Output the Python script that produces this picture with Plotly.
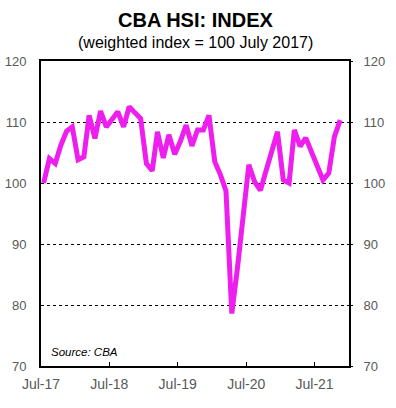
import pandas as pd
import plotly.graph_objects as go

# Monthly index values, Jul-2017 .. Nov-2021
hsi_values = [
    100.0, 104.0, 103.2, 106.2, 108.5, 109.2, 103.8, 104.3, 111.1, 107.3,
    111.8, 109.2, 110.4, 111.7, 109.2, 112.5, 111.5, 110.6, 103.2, 102.0,
    108.4, 104.1, 107.9, 104.7, 106.8, 109.5, 106.1, 108.7, 108.7, 111.1,
    103.5, 101.3, 98.7, 78.6, 86.0, 94.5, 103.0, 100.2, 98.8, 102.0,
    105.2, 108.4, 100.5, 100.0, 108.7, 106.0, 107.4, 105.0, 102.7, 100.5,
    101.6, 107.6, 110.3,
]
months = pd.date_range("2017-07-01", periods=len(hsi_values), freq="MS") + pd.DateOffset(days=14)

tick_dates = ["2017-07-01", "2018-07-01", "2019-07-01", "2020-07-01", "2021-07-01"]
tick_labels = ["Jul-17", "Jul-18", "Jul-19", "Jul-20", "Jul-21"]
y_ticks = [70, 80, 90, 100, 110, 120]

FONT = "Liberation Sans, Arial, sans-serif"
GREY = "#595959"

fig = go.Figure()
fig.add_trace(go.Scatter(
    x=months, y=hsi_values, mode="lines",
    line=dict(color="#EE1EEE", width=5),
    hoverinfo="skip", showlegend=False,
))
# invisible trace on secondary axis to show right-hand labels
fig.add_trace(go.Scatter(
    x=[months[0]], y=[hsi_values[0]], yaxis="y2", mode="markers",
    marker=dict(opacity=0), hoverinfo="skip", showlegend=False,
))

fig.update_layout(
    width=396, height=408,
    margin=dict(l=41, r=47, t=61, b=42, autoexpand=False),
    paper_bgcolor="white", plot_bgcolor="white",
    font=dict(family=FONT, color=GREY, size=13),
    xaxis=dict(
        type="date", automargin=False,
        range=["2017-07-01", "2022-01-01"],
        tickmode="array", tickvals=tick_dates, ticktext=tick_labels,
        ticks="inside", ticklen=4, tickwidth=1, tickcolor="black",
        showgrid=False, zeroline=False,
        showline=True, linecolor="black", linewidth=2, mirror=True,
        tickfont=dict(size=14, color=GREY),
        ticklabelstandoff=4,
    ),
    yaxis=dict(
        range=[70, 120], tickmode="array", tickvals=y_ticks, automargin=False,
        showgrid=True, gridcolor="black", griddash="dot", gridwidth=1,
        zeroline=False, ticks="",
        showline=True, linecolor="black", linewidth=2, mirror=True,
        tickfont=dict(size=13, color=GREY),
        ticklabelstandoff=10,
    ),
    yaxis2=dict(
        range=[70, 120], tickmode="array", tickvals=y_ticks, automargin=False,
        overlaying="y", side="right", showgrid=False, zeroline=False,
        ticks="outside", ticklen=3, tickcolor="black",
        tickfont=dict(size=13, color=GREY),
        ticklabelstandoff=8,
    ),
    annotations=[
        dict(
            text="<b>CBA HSI: INDEX</b>", xref="paper", yref="paper",
            x=0.5, y=1.0, yshift=41, xanchor="center", yanchor="middle", showarrow=False,
            font=dict(family=FONT, size=20, color="black"),
        ),
        dict(
            text="(weighted index = 100 July 2017)", xref="paper", yref="paper",
            x=0.5, y=1.0, yshift=19, xanchor="center", yanchor="middle", showarrow=False,
            font=dict(family=FONT, size=16, color="black"),
        ),
        dict(
            text="<i>Source: CBA</i>", xref="paper", yref="paper",
            x=0.025, y=0.02, xanchor="left", yanchor="bottom", showarrow=False,
            font=dict(family=FONT, size=11.5, color="black"),
        ),
    ],
)

fig.write_html(
    "out.html",
    config={"displayModeBar": False},
    post_script="document.body.style.margin='0px';document.body.style.overflow='hidden';",
)
